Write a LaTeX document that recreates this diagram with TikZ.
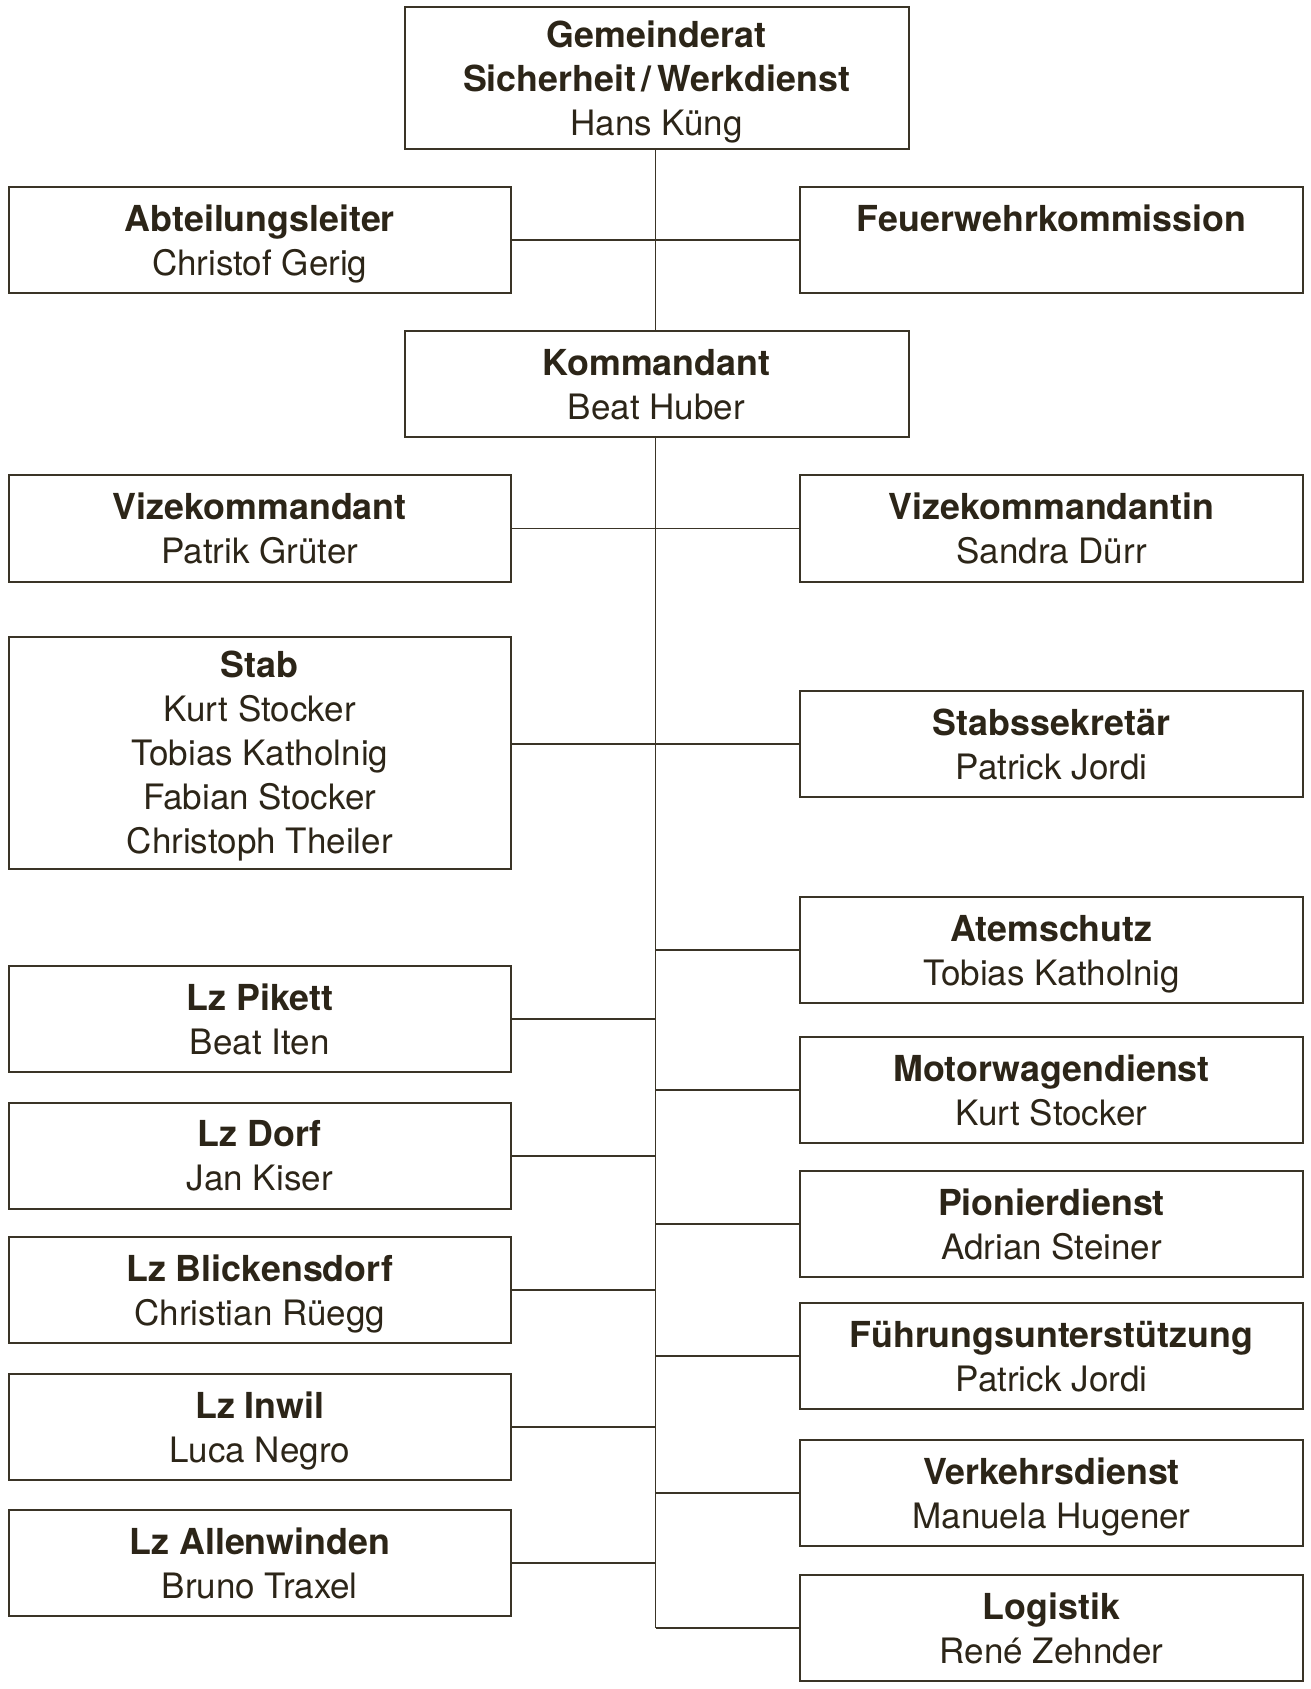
\documentclass[tikz,border=0pt]{standalone}
\usepackage{fontspec}
\setmainfont{TeX Gyre Heros}
\definecolor{ink}{RGB}{44,37,24}
\definecolor{rule}{RGB}{58,52,38}
\newcommand\ttl[1]{{\fontsize{17.9}{22}\selectfont\bfseries #1}}
\begin{document}
\begin{tikzpicture}[x=0.5pt,y=-0.5pt,
  orgbox/.style={draw=rule, line width=1pt, minimum height=53pt, align=center, inner sep=0pt,
    text=ink, text depth=0pt, font=\fontsize{17.5}{22}\selectfont},
  lbox/.style={orgbox, minimum width=251.25pt},
  rbox/.style={orgbox, minimum width=251.5pt},
  cbox/.style={orgbox, minimum width=252pt},
  link/.style={draw=rule, line width=0.9pt}]
\useasboundingbox (0,0) rectangle (1310,1689);
% centre column
\node[cbox, minimum height=71pt] (top) at (656.5,78.3) {\ttl{Gemeinderat}\\\ttl{Sicherheit\,/\,Werkdienst}\\Hans Küng};
\node[cbox] (kdt) at (656.5,384.2) {\ttl{Kommandant}\\Beat Huber};
% left column
\node[lbox] (abt) at (259.75,240.3) {\ttl{Abteilungsleiter}\\Christof Gerig};
\node[lbox] (vizel) at (259.75,528.5) {\ttl{Vizekommandant}\\Patrik Grüter};
\node[lbox, minimum height=116pt] (stab) at (259.75,752.7) {\ttl{Stab}\\Kurt Stocker\\Tobias Katholnig\\Fabian Stocker\\Christoph Theiler};
\node[lbox] (pik) at (259.75,1019.25) {\ttl{Lz Pikett}\\Beat Iten};
\node[lbox] (dorf) at (259.75,1155.65) {\ttl{Lz Dorf}\\Jan Kiser};
\node[lbox] (blick) at (259.75,1289.8) {\ttl{Lz Blickensdorf}\\Christian Rüegg};
\node[lbox] (inwil) at (259.75,1426.85) {\ttl{Lz Inwil}\\Luca Negro};
\node[lbox] (allen) at (259.75,1563.15) {\ttl{Lz Allenwinden}\\Bruno Traxel};
% right column
\node[rbox] (fwk) at (1051.5,240.3) {\ttl{Feuerwehrkommission}\\\mbox{}};
\node[rbox] (vizer) at (1051.5,528.5) {\ttl{Vizekommandantin}\\Sandra Dürr};
\node[rbox] (sek) at (1051.5,743.85) {\ttl{Stabssekretär}\\Patrick Jordi};
\node[rbox] (atem) at (1051.5,950.35) {\ttl{Atemschutz}\\Tobias Katholnig};
\node[rbox] (motor) at (1051.5,1089.85) {\ttl{Motorwagendienst}\\Kurt Stocker};
\node[rbox] (pion) at (1051.5,1224) {\ttl{Pionierdienst}\\Adrian Steiner};
\node[rbox] (fue) at (1051.5,1356.2) {\ttl{Führungsunterstützung}\\Patrick Jordi};
\node[rbox] (verk) at (1051.5,1492.7) {\ttl{Verkehrsdienst}\\Manuela Hugener};
\node[rbox] (log) at (1051.5,1627.85) {\ttl{Logistik}\\René Zehnder};
% spine
\coordinate (spinex) at (655.5,0);
\draw[link] (top.south -| spinex) -- (kdt.north -| spinex);
\draw[link] (kdt.south -| spinex) -- (log.west -| spinex);
% branches
\draw[link] (abt.east) -- (fwk.west);
\draw[link] (vizel.east) -- (vizer.west);
\draw[link] (sek.west -| stab.east) -- (sek.west);
\draw[link] (atem.west -| spinex) -- (atem.west);
\draw[link] (pik.east) -- (pik.east -| spinex);
\draw[link] (motor.west -| spinex) -- (motor.west);
\draw[link] (dorf.east) -- (dorf.east -| spinex);
\draw[link] (pion.west -| spinex) -- (pion.west);
\draw[link] (blick.east) -- (blick.east -| spinex);
\draw[link] (fue.west -| spinex) -- (fue.west);
\draw[link] (inwil.east) -- (inwil.east -| spinex);
\draw[link] (verk.west -| spinex) -- (verk.west);
\draw[link] (allen.east) -- (allen.east -| spinex);
\draw[link] (log.west -| spinex) -- (log.west);
\end{tikzpicture}
\end{document}
